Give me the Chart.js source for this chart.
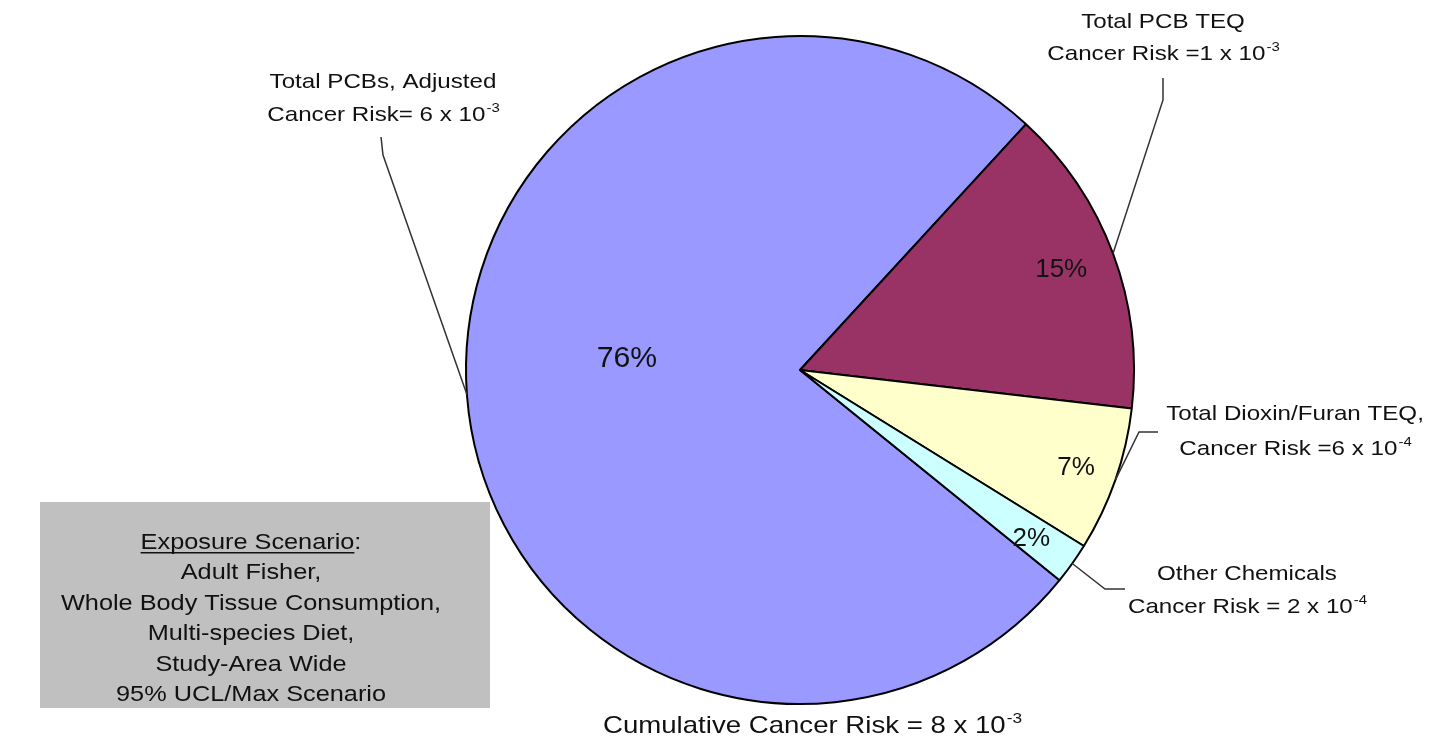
<!DOCTYPE html>
<html>
<head>
<meta charset="utf-8">
<script src="https://cdn.jsdelivr.net/npm/chart.js@4.4.1/dist/chart.umd.min.js"></script>
<style>
  html, body { margin: 0; padding: 0; background: #fff; }
  #wrap { width: 1434px; height: 740px; }
</style>
</head>
<body>
<div id="wrap"><canvas id="riskPie" width="1434" height="740"></canvas></div>
<script>
// chart data
const categories = ["Total PCBs, Adjusted", "Total PCB TEQ", "Total Dioxin/Furan TEQ,", "Other Chemicals"];
const percentages = [76, 15, 7, 2];
const riskText = ["Cancer Risk= 6 x 10", "Cancer Risk =1 x 10", "Cancer Risk =6 x 10", "Cancer Risk = 2 x 10"];
const riskExp = ["-3", "-3", "-4", "-4"];
const sliceColors = ["#9999FF", "#993366", "#FFFFCC", "#CCFFFF"];
const scenarioLines = ["Adult Fisher,", "Whole Body Tissue Consumption,", "Multi-species Diet,", "Study-Area Wide", "95% UCL/Max Scenario"];
const cumulativeText = "Cumulative Cancer Risk = 8 x 10";
const cumulativeExp = "-3";

// label placement (styling only)
const pctRadius = [0.52, 0.84, 0.875, 0.855];
const pctAngleShift = [8.5, -1, 0, 0.5];
const pctSize = [29, 25, 25, 25];
const labelAnchor = [
  { x: 383, y1: 88, y2: 121, elbow: [[383, 155], [381, 137]] },
  { x: 1163, y1: 28, y2: 60, elbow: [[1163, 100], [1163, 78]] },
  { x: 1295, y1: 420, y2: 455, elbow: [[1139, 432], [1158, 432]] },
  { x: 1247, y1: 580, y2: 613, elbow: [[1105, 589], [1125, 589]] },
];

const SX = 1.15;
const FONT = '"Liberation Sans", Arial, sans-serif';

function drawText(ctx, s, x, y, size, align, sx) {
  ctx.save();
  ctx.translate(x, y);
  ctx.scale(sx || SX, 1);
  ctx.font = size + "px " + FONT;
  ctx.textAlign = align || "center";
  ctx.textBaseline = "alphabetic";
  ctx.fillText(s, 0, 0);
  ctx.restore();
}

function textWidth(ctx, s, size) {
  ctx.font = size + "px " + FONT;
  return ctx.measureText(s).width * SX;
}

function drawPower(ctx, main, sup, cx, y, size) {
  const supSize = Math.round(size * 0.62);
  const w1 = textWidth(ctx, main, size);
  const w2 = textWidth(ctx, sup, supSize);
  const left = cx - (w1 + w2) / 2;
  drawText(ctx, main, left, y, size, "left");
  drawText(ctx, sup, left + w1 + 1, y - size * 0.42, supSize, "left");
}

const scenarioBox = {
  id: "scenarioBox",
  beforeDraw(chart) {
    const ctx = chart.ctx;
    ctx.save();
    ctx.fillStyle = "#C0C0C0";
    ctx.fillRect(40, 502, 450, 206);
    ctx.fillStyle = "#111";
    const head = "Exposure Scenario";
    const size = 22;
    const wHead = textWidth(ctx, head, size);
    const wColon = textWidth(ctx, ":", size);
    const left = 251 - (wHead + wColon) / 2;
    drawText(ctx, head, left, 549, size, "left");
    drawText(ctx, ":", left + wHead, 549, size, "left");
    ctx.fillRect(left, 552, wHead, 1.5);
    scenarioLines.forEach((line, i) => {
      drawText(ctx, line, 251, 579 + i * 30.5, size, "center");
    });
    ctx.restore();
  },
};

const pieLabels = {
  id: "pieLabels",
  afterDraw(chart) {
    const ctx = chart.ctx;
    const arcs = chart.getDatasetMeta(0).data;
    ctx.save();
    arcs.forEach((arc, i) => {
      const p = arc.getProps(["x", "y", "startAngle", "endAngle", "outerRadius"], true);
      const mid = (p.startAngle + p.endAngle) / 2;

      // percentage inside slice
      const a = mid + (pctAngleShift[i] * Math.PI) / 180;
      const r = p.outerRadius * pctRadius[i];
      const sz = pctSize[i];
      ctx.fillStyle = "#111";
      drawText(ctx, percentages[i] + "%", p.x + Math.cos(a) * r, p.y + Math.sin(a) * r + sz * 0.36, sz, "center", 1.04);

      // leader line
      const anc = labelAnchor[i];
      ctx.beginPath();
      ctx.moveTo(p.x + Math.cos(mid) * p.outerRadius, p.y + Math.sin(mid) * p.outerRadius);
      anc.elbow.forEach(([x, y]) => ctx.lineTo(x, y));
      ctx.strokeStyle = "#333";
      ctx.lineWidth = 1.5;
      ctx.stroke();

      // category label
      ctx.fillStyle = "#111";
      drawText(ctx, categories[i], anc.x, anc.y1, 21, "center");
      drawPower(ctx, riskText[i], riskExp[i], anc.x, anc.y2, 21);
    });

    drawPower(ctx, cumulativeText, cumulativeExp, 812, 733, 24);
    ctx.restore();
  },
};

new Chart(document.getElementById("riskPie"), {
  type: "pie",
  data: {
    labels: categories,
    datasets: [
      {
        data: percentages,
        backgroundColor: sliceColors,
        borderColor: "#000",
        borderWidth: 2,
      },
    ],
  },
  options: {
    responsive: false,
    animation: false,
    rotation: 129,
    layout: {
      padding: { top: 35, bottom: 35, left: 465, right: 299 },
    },
    plugins: {
      legend: { display: false },
      tooltip: { enabled: false },
    },
    events: [],
  },
  plugins: [scenarioBox, pieLabels],
});
</script>
</body>
</html>
